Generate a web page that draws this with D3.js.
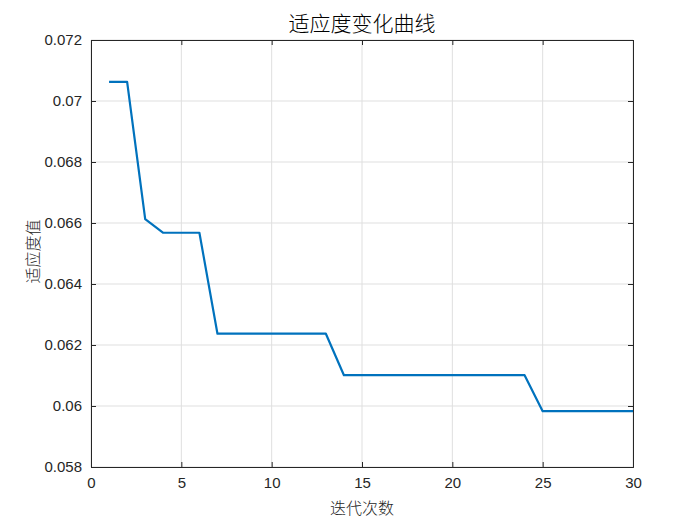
<!DOCTYPE html>
<html><head><meta charset="utf-8">
<script src="https://cdn.jsdelivr.net/npm/d3@7"></script>
<style>body{margin:0;background:#fff}</style>
</head><body><svg id="c" width="700" height="525"></svg>
<script>
const iterations = d3.range(1, 31);
const fitness = [0.07063,0.07063,0.06613,0.06568,0.06568,0.06568,0.06237,0.06237,0.06237,0.06237,
  0.06237,0.06237,0.06237,0.06101,0.06101,0.06101,0.06101,0.06101,0.06101,0.06101,
  0.06101,0.06101,0.06101,0.06101,0.05983,0.05983,0.05983,0.05983,0.05983,0.05983];
const xTicks = [0,5,10,15,20,25,30];
const yTicks = [0.058,0.06,0.062,0.064,0.066,0.068,0.07,0.072];
const title = "适应度变化曲线", xLabel = "迭代次数", yLabel = "适应度值";

const svg = d3.select("#c");
const L=91,R=633,T=40,B=467;
const x = d3.scaleLinear().domain([0,30]).range([L,R]);
const y = d3.scaleLinear().domain([0.058,0.072]).range([B,T]);
const tickFont = "'Liberation Sans', Arial, sans-serif";
const cjk = "'Noto Sans CJK SC', sans-serif";

// grid
svg.append("g").selectAll("line").data(xTicks).join("line")
  .attr("x1",d=>x(d)).attr("x2",d=>x(d)).attr("y1",T).attr("y2",B)
  .attr("stroke","#dfdfdf").attr("stroke-width",1);
svg.append("g").selectAll("line").data(yTicks).join("line")
  .attr("y1",d=>y(d)).attr("y2",d=>y(d)).attr("x1",L).attr("x2",R)
  .attr("stroke","#dfdfdf").attr("stroke-width",1);

// line
svg.append("path").datum(iterations.map((d,i)=>[d,fitness[i]]))
  .attr("fill","none").attr("stroke","#0072BD").attr("stroke-width",2.2)
  .attr("stroke-linejoin","round")
  .attr("d", d3.line().x(d=>x(d[0])).y(d=>y(d[1])));

// axes
const fmt = d=> d===0.06?"0.06":(d===0.07?"0.07":d3.format(".3f")(d));
const xb = svg.append("g").attr("transform",`translate(0,${B})`)
  .call(d3.axisBottom(x).tickValues(xTicks).tickSize(-5).tickPadding(10).tickFormat(d3.format("d")));
const xt = svg.append("g").attr("transform",`translate(0,${T})`)
  .call(d3.axisTop(x).tickValues(xTicks).tickSize(-5).tickFormat(""));
const yl = svg.append("g").attr("transform",`translate(${L},0)`)
  .call(d3.axisLeft(y).tickValues(yTicks).tickSize(-5).tickPadding(9).tickFormat(fmt));
const yr = svg.append("g").attr("transform",`translate(${R},0)`)
  .call(d3.axisRight(y).tickValues(yTicks).tickSize(-5).tickFormat(""));
[xb,xt,yl,yr].forEach(g=>{
  g.select(".domain").attr("stroke","#262626").attr("stroke-width",1);
  g.selectAll(".tick line").attr("stroke","#262626");
  g.selectAll("text").attr("font-family",tickFont).attr("font-size",15).attr("fill","#262626");
});
xb.selectAll("text").attr("dy","0.71em");

svg.append("text").attr("x",(L+R)/2).attr("y",31).attr("text-anchor","middle")
  .attr("font-family",cjk).attr("font-weight",300).attr("font-size",21).attr("fill","#000").text(title);
svg.append("text").attr("x",(L+R)/2).attr("y",514).attr("text-anchor","middle")
  .attr("font-family",cjk).attr("font-weight",300).attr("font-size",16).attr("fill","#262626").text(xLabel);
svg.append("text").attr("transform",`translate(39,${(T+B)/2-2}) rotate(-90)`).attr("text-anchor","middle")
  .attr("font-family",cjk).attr("font-weight",300).attr("font-size",16).attr("fill","#262626").text(yLabel);
</script></body></html>
